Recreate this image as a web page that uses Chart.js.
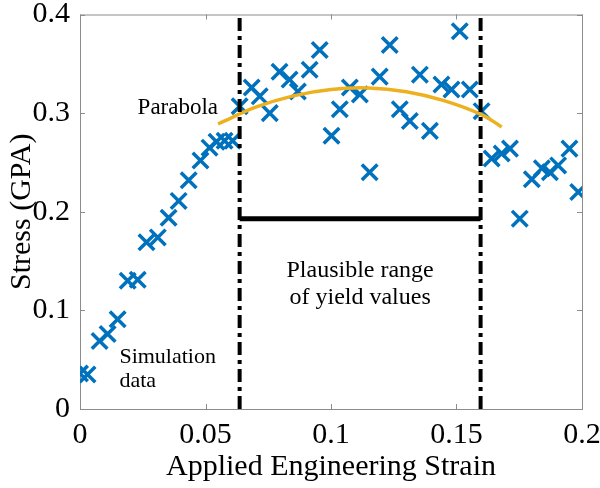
<!DOCTYPE html>
<html>
<head>
<meta charset="utf-8">
<script src="https://cdn.jsdelivr.net/npm/chart.js@4.4.0/dist/chart.umd.min.js"></script>
<style>
  html, body { margin: 0; padding: 0; background: #fff; }
</style>
</head>
<body>
<canvas id="stressChart" width="600" height="488"></canvas>
<script>
// Datos de simulación
const strain = [0.000, 0.003, 0.0078, 0.011, 0.015, 0.019, 0.023, 0.0265, 0.031, 0.0353,
  0.0393, 0.0433, 0.048, 0.0516, 0.0544, 0.0576, 0.0608, 0.0636, 0.0684, 0.0716,
  0.0756, 0.0795, 0.0835, 0.0868, 0.0915, 0.0955, 0.1002, 0.1035, 0.1075, 0.1115,
  0.1154, 0.1194, 0.1234, 0.1274, 0.1314, 0.1354, 0.1394, 0.144, 0.148, 0.1513,
  0.1553, 0.160, 0.164, 0.168, 0.1713, 0.1752, 0.180, 0.184, 0.1872, 0.1905,
  0.195, 0.1985];
const stress = [0.036, 0.035, 0.069, 0.076, 0.091, 0.130, 0.131, 0.169, 0.174, 0.194,
  0.211, 0.232, 0.252, 0.265, 0.271, 0.272, 0.272, 0.307, 0.326, 0.317,
  0.300, 0.342, 0.334, 0.322, 0.344, 0.364, 0.277, 0.304, 0.326, 0.319,
  0.240, 0.337, 0.369, 0.304, 0.292, 0.339, 0.282, 0.329, 0.324, 0.383,
  0.324, 0.302, 0.254, 0.259, 0.264, 0.193, 0.233, 0.244, 0.240, 0.247,
  0.264, 0.220];

// Parábola ajustada
const parabolaStrain = [0.055, 0.07, 0.085, 0.1, 0.115, 0.13, 0.145, 0.16, 0.168];
const parabolaStress = [0.289, 0.306, 0.3175, 0.324, 0.3255, 0.3217, 0.3127, 0.2985, 0.286];

// Rango plausible de fluencia
const yieldLimits = [0.0636, 0.1596];
const rangeLevel = 0.193;

// Ejes
const xTicks = [0, 0.05, 0.1, 0.15, 0.2];
const xTickLabels = ['0', '0.05', '0.1', '0.15', '0.2'];
const yTicks = [0, 0.1, 0.2, 0.3, 0.4];
const yTickLabels = ['0', '0.1', '0.2', '0.3', '0.4'];

const serif = '"Liberation Serif", "Times New Roman", serif';
const azul = '#0072BD';
const naranja = '#EDB120';

// Caja de ejes con marcas hacia adentro (estilo MATLAB)
const cajaEjes = {
  id: 'cajaEjes',
  beforeDatasetsDraw(chart) {
    const { ctx, chartArea: a, scales: { x, y } } = chart;
    ctx.save();
    ctx.strokeStyle = '#8c8c8c';
    ctx.lineWidth = 1;
    ctx.strokeRect(a.left + 0.5, a.top + 0.5, a.right - a.left, a.bottom - a.top);
    ctx.beginPath();
    xTicks.forEach(v => {
      const px = Math.round(x.getPixelForValue(v)) + 0.5;
      ctx.moveTo(px, a.bottom); ctx.lineTo(px, a.bottom - 5);
      ctx.moveTo(px, a.top); ctx.lineTo(px, a.top + 5);
    });
    yTicks.forEach(v => {
      const py = Math.round(y.getPixelForValue(v)) + 0.5;
      ctx.moveTo(a.left, py); ctx.lineTo(a.left + 5, py);
      ctx.moveTo(a.right, py); ctx.lineTo(a.right - 5, py);
    });
    ctx.stroke();
    ctx.restore();
  }
};

// Anotaciones de texto
const textos = {
  id: 'textos',
  afterDatasetsDraw(chart) {
    const { ctx, scales: { x, y } } = chart;
    ctx.save();
    ctx.fillStyle = '#000';
    ctx.textBaseline = 'middle';
    ctx.font = '23px ' + serif;
    ctx.textAlign = 'right';
    ctx.fillText('Parabola', x.getPixelForValue(0.055), y.getPixelForValue(0.305));
    ctx.font = '22px ' + serif;
    ctx.textAlign = 'left';
    ctx.fillText('Simulation', x.getPixelForValue(0.0157), y.getPixelForValue(0.052));
    ctx.fillText('data', x.getPixelForValue(0.0157), y.getPixelForValue(0.028));
    ctx.font = '24px ' + serif;
    ctx.textAlign = 'center';
    const mid = (yieldLimits[0] + yieldLimits[1]) / 2;
    ctx.fillText('Plausible range', x.getPixelForValue(mid), y.getPixelForValue(0.140));
    ctx.fillText('of yield values', x.getPixelForValue(mid), y.getPixelForValue(0.113));
    ctx.restore();
  }
};

const dashDot = [13, 5, 4, 5];

const ctx = document.getElementById('stressChart').getContext('2d');
new Chart(ctx, {
  type: 'scatter',
  data: {
    datasets: [
      {
        label: 'Simulation data',
        data: strain.map((s, i) => ({ x: s, y: stress[i] })),
        pointStyle: 'crossRot',
        pointRadius: 11,
        pointBorderWidth: 3.5,
        borderColor: azul,
        backgroundColor: azul,
        order: 3
      },
      {
        label: 'Parabola',
        type: 'line',
        data: parabolaStrain.map((s, i) => ({ x: s, y: parabolaStress[i] })),
        borderColor: naranja,
        borderWidth: 3.5,
        pointRadius: 0,
        tension: 0.4,
        fill: false,
        order: 2
      },
      {
        label: 'Yield low',
        type: 'line',
        data: [{ x: yieldLimits[0], y: 0 }, { x: yieldLimits[0], y: 0.4 }],
        borderColor: '#000',
        borderWidth: 4,
        borderDash: dashDot,
        pointRadius: 0,
        order: 1
      },
      {
        label: 'Yield high',
        type: 'line',
        data: [{ x: yieldLimits[1], y: 0 }, { x: yieldLimits[1], y: 0.4 }],
        borderColor: '#000',
        borderWidth: 4,
        borderDash: dashDot,
        pointRadius: 0,
        order: 1
      },
      {
        label: 'Range',
        type: 'line',
        data: [{ x: yieldLimits[0], y: rangeLevel }, { x: yieldLimits[1], y: rangeLevel }],
        borderColor: '#000',
        borderWidth: 5,
        pointRadius: 0,
        order: 1
      }
    ]
  },
  options: {
    responsive: false,
    devicePixelRatio: 1,
    animation: false,
    layout: { padding: { top: 11, right: 18, left: 0, bottom: 0 } },
    plugins: {
      legend: { display: false },
      tooltip: { enabled: false }
    },
    scales: {
      x: {
        type: 'linear',
        min: 0,
        max: 0.2,
        afterFit: s => { s.height = 79; s.paddingLeft = 0; s.paddingRight = 0; },
        afterBuildTicks: s => { s.ticks = xTicks.map(v => ({ value: v })); },
        grid: { display: false, drawTicks: false },
        border: { display: false },
        ticks: {
          padding: 8,
          color: '#000',
          font: { family: serif, size: 30 },
          maxRotation: 0,
          callback: (v, i) => xTickLabels[i]
        },
        title: {
          display: true,
          text: 'Applied Engineering Strain',
          color: '#000',
          font: { family: serif, size: 30 },
          padding: { top: 0, bottom: 3 }
        }
      },
      y: {
        type: 'linear',
        min: 0,
        max: 0.4,
        afterFit: s => { s.width = 80; s.paddingTop = 0; s.paddingBottom = 0; },
        afterBuildTicks: s => { s.ticks = yTicks.map(v => ({ value: v })); },
        grid: { display: false, drawTicks: false },
        border: { display: false },
        ticks: {
          padding: 10,
          color: '#000',
          font: { family: serif, size: 30 },
          callback: (v, i) => yTickLabels[i]
        },
        title: {
          display: true,
          text: 'Stress (GPA)',
          color: '#000',
          font: { family: serif, size: 30 },
          padding: { top: 4, bottom: 0 }
        }
      }
    }
  },
  plugins: [cajaEjes, textos]
});
</script>
</body>
</html>
